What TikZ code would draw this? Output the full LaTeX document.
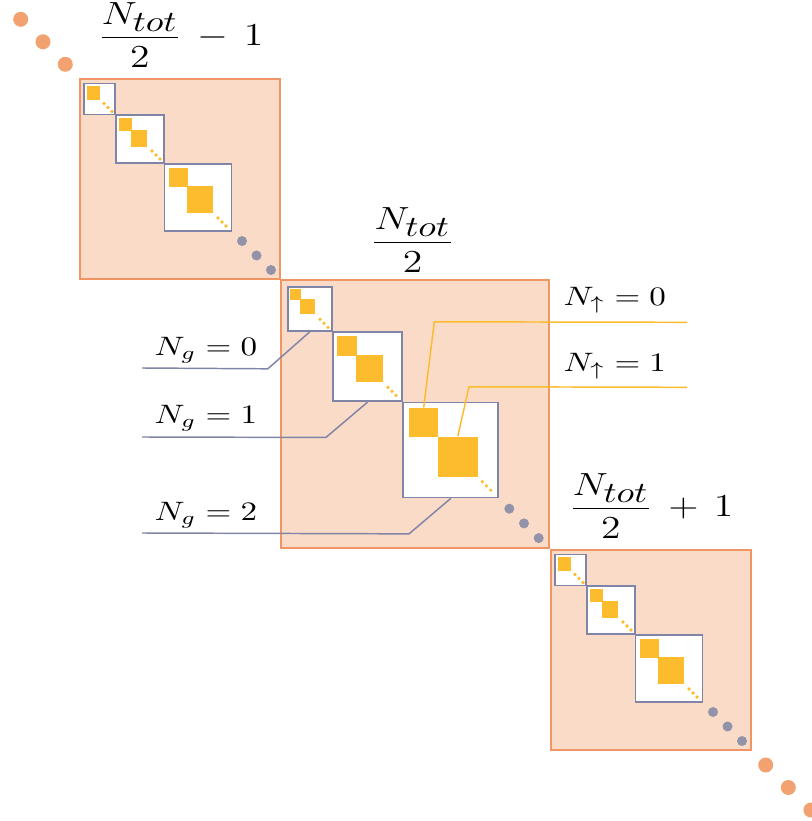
\documentclass[tikz,border=0pt]{standalone}
\usepackage{amsmath,amssymb}
\usepackage{graphicx}
\usepackage{tikz}
\definecolor{blockOrange}{RGB}{240,150,100}
\definecolor{blockFill}{RGB}{250,219,199}
\definecolor{dotOrange}{RGB}{241,162,112}
\definecolor{frameGray}{RGB}{128,132,166}
\definecolor{dotGray}{RGB}{146,147,169}
\definecolor{blockYellow}{RGB}{253,188,45}
\usetikzlibrary{positioning}
\DeclareMathSizes{13}{13}{11}{8}
\def\pxu{0.375pt}
\newcommand{\widetxt}[1]{\scalebox{1.24}[1]{#1}}

\begin{document}
\begin{tikzpicture}[
  x=0.375pt,
  y=-0.375pt,
  every node/.style={align=center},
  blk/.style={draw=blockOrange, fill=blockFill, line width=0.85pt, inner sep=0pt, minimum size=#1*\pxu},
  subblk/.style={draw=frameGray, fill=white, line width=0.65pt, inner sep=0pt, minimum size=#1*\pxu},
  ysq/.style={fill=blockYellow, inner sep=0pt, minimum size=#1*\pxu},
  ydot/.style={circle, fill=blockYellow, inner sep=0pt, minimum size=3.6*\pxu},
  gdot/.style={circle, fill=dotGray, inner sep=0pt, minimum size=10*\pxu},
  odot/.style={circle, fill=dotOrange, inner sep=0pt, minimum size=15*\pxu},
  lbl/.style={inner sep=0pt, font=\normalsize},
  biglbl/.style={inner sep=0pt, font=\fontsize{13}{16}\selectfont},
  gline/.style={draw=frameGray, line width=0.55pt},
  yline/.style={draw=blockYellow, line width=0.55pt}
]
\useasboundingbox (0,0) rectangle (811,821);

% outer dots
\foreach \k in {0,1,2} {
  \node[odot] (od\k) at (20.7+22.3*\k,19.3+22.5*\k) {};
  \node[odot] (oe\k) at (765.7+22.6*\k,765+22.5*\k) {};
}

% first and last block
\foreach \o/\n in {0/a,471/c} {
  \node[blk=200] (\n) at (180+\o,179+\o) {};
  \node[subblk=31] (\n1) at (99.5+\o,99+\o) {};
  \node[subblk=48] (\n2) at (140+\o,139+\o) {};
  \node[subblk=67] (\n3) at (198+\o,197.5+\o) {};
  \node[ysq=13.5] (\n1y1) at (93.5+\o,93+\o) {};
  \node[ysq=13] (\n2y1) at (125.5+\o,124.5+\o) {};
  \node[ysq=16.5] (\n2y2) at (139+\o,138.5+\o) {};
  \node[ysq=19] (\n3y1) at (178.5+\o,177.5+\o) {};
  \node[ysq=26.5] (\n3y2) at (200+\o,199.5+\o) {};
  \foreach \k in {0,1,2} {
    \node[ydot] (\n1d\k) at (104+4*\k+\o,103.5+4*\k+\o) {};
    \node[ydot] (\n2d\k) at (152+4*\k+\o,151+4*\k+\o) {};
    \node[ydot] (\n3d\k) at (218+4*\k+\o,218+4*\k+\o) {};
    \node[gdot] (\n g\k) at (242+14.5*\k+\o,241+14.5*\k+\o) {};
  }
}

% middle block
\node[blk=268] (b) at (415,414) {};
\node[subblk=44.3] (b1) at (309.8,308.8) {};
\node[subblk=69.6] (b2) at (367.5,366.5) {};
\node[subblk=95] (b3) at (450.8,450) {};
\node[ysq=11.3] (b1y1) at (295.7,294.7) {};
\node[ysq=15] (b1y2) at (307.8,306.8) {};
\node[ysq=19.7] (b2y1) at (347.2,346.3) {};
\node[ysq=27] (b2y2) at (369.8,368.8) {};
\node[ysq=29.3] (b3y1) at (423.7,422.7) {};
\node[ysq=40] (b3y2) at (457.8,456.7) {};
\foreach \k in {0,1,2} {
  \node[ydot] (b1d\k) at (320+4*\k,319.3+4*\k) {};
  \node[ydot] (b2d\k) at (388+4*\k,387.3+4*\k) {};
  \node[ydot] (b3d\k) at (482.3+4.2*\k,481.7+4.2*\k) {};
  \node[gdot] (bg\k) at (509.3+14.7*\k,508.7+14.7*\k) {};
}

% labels
\node[biglbl] (lblm) at (180.5,35) {\widetxt{$\dfrac{N_{tot}}{2} \,-\, 1$}};
\node[biglbl] (lblc) at (412.5,240) {\widetxt{$\dfrac{N_{tot}}{2}$}};
\node[biglbl] (lblp) at (651,506) {\widetxt{$\dfrac{N_{tot}}{2} \,+\, 1$}};

\node[lbl, anchor=base west] (ng0) at (154,356) {\widetxt{$N_g = 0$}};
\node[lbl, anchor=base west] (ng1) at (154,424) {\widetxt{$N_g = 1$}};
\node[lbl, anchor=base west] (ng2) at (154,520) {\widetxt{$N_g = 2$}};
\node[lbl, anchor=base west] (nu0) at (563,306) {\widetxt{$N_\uparrow = 0$}};
\node[lbl, anchor=base west] (nu1) at (563,372) {\widetxt{$N_\uparrow = 1$}};

\coordinate (ng0end) at (142,368);
\coordinate (ng1end) at (142,437);
\coordinate (ng2end) at (142,533);
\coordinate (nu0end) at (687,322.3);
\coordinate (nu1end) at (687,387.3);

\draw[gline] (b1.south) -- ++(-42,37) -- (ng0end);
\draw[gline] (b2.south) -- ++(-41.6,35.3) -- (ng1end);
\draw[gline] (b3.south) -- ++(-41.8,35.5) -- (ng2end);
\draw[yline] (b3y1.north) -- ++(10.6,-85.7) -- (nu0end);
\draw[yline] (b3y2.north) -- ++(11.2,-49.4) -- (nu1end);
\end{tikzpicture}
\end{document}
